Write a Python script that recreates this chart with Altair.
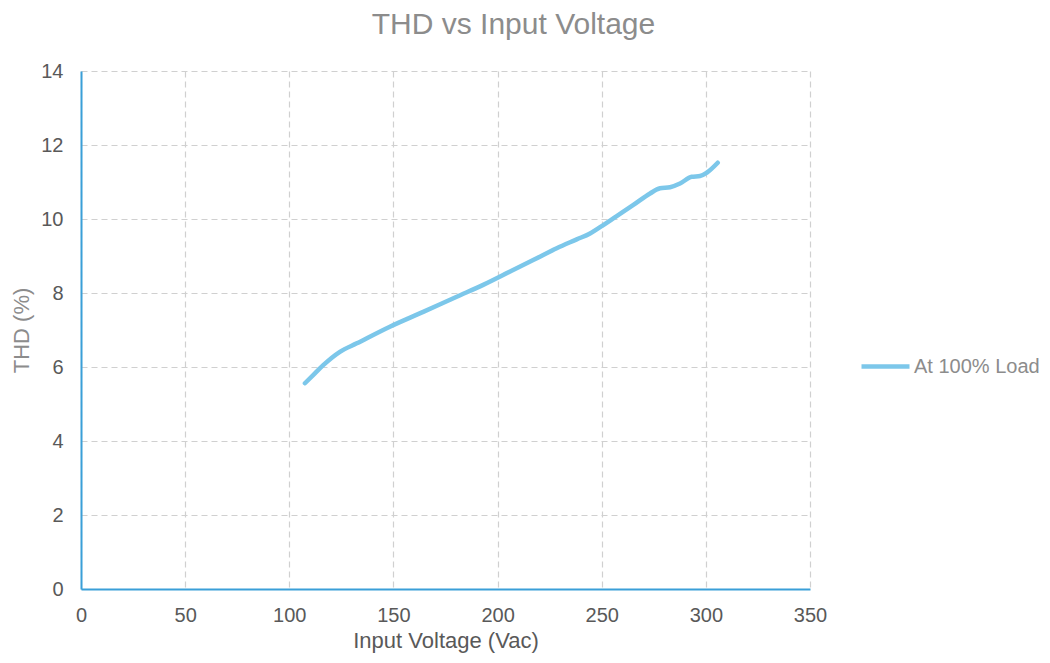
import altair as alt
import pandas as pd

voltage = [107.5, 112.3, 116.3, 124.3, 132.4, 148.3, 164.3, 180.4, 193.1, 206.0,
           217.1, 228.4, 238.0, 244.4, 249.2, 257.2, 265.2, 273.2, 278.0, 282.8,
           287.6, 293.2, 297.2, 300.4, 305.7]
thd = [5.56, 5.83, 6.05, 6.41, 6.64, 7.09, 7.49, 7.90, 8.22, 8.58,
       8.89, 9.21, 9.45, 9.61, 9.78, 10.08, 10.38, 10.69, 10.83, 10.86,
       10.96, 11.14, 11.16, 11.25, 11.52]
series = ["At 100% Load"] * len(voltage)

df = pd.DataFrame({"V": voltage, "THD": thd, "Series": series})

FONT = "Liberation Sans"

line = alt.Chart(df).mark_line(strokeWidth=4.5, interpolate="monotone", strokeCap="round").encode(
    x=alt.X("V:Q", scale=alt.Scale(domain=[0, 350], nice=False),
            axis=alt.Axis(title="Input Voltage (Vac)", values=list(range(0, 351, 50)),
                          grid=True, gridDash=[6, 4], gridColor="#d0d0d0", gridWidth=1.2,
                          domainColor="#3a9fd8", domainWidth=2, ticks=False, labelFlush=False,
                          labelFont=FONT, labelFontSize=20, labelColor="#595959", labelPadding=16,
                          titleFont=FONT, titleFontSize=22, titleColor="#595959",
                          titleFontWeight="normal", titlePadding=5)),
    y=alt.Y("THD:Q", scale=alt.Scale(domain=[0, 14], nice=False),
            axis=alt.Axis(title="THD (%)", values=list(range(0, 15, 2)),
                          grid=True, gridDash=[6, 4], gridColor="#d0d0d0", gridWidth=1.2,
                          domainColor="#3a9fd8", domainWidth=2, ticks=False, labelFlush=False,
                          labelFont=FONT, labelFontSize=20, labelColor="#595959", labelPadding=18,
                          titleFont=FONT, titleFontSize=22, titleColor="#8c8c8c",
                          titleFontWeight="normal", titlePadding=7)),
    color=alt.Color("Series:N", scale=alt.Scale(range=["#7cc7ea"]),
                    legend=alt.Legend(title=None, orient="none", legendX=778, legendY=269,
                                      symbolType="stroke", symbolSize=2304, symbolStrokeWidth=4.5,
                                      labelFont=FONT, labelFontSize=20, labelColor="#8c8c8c",
                                      labelOffset=2, padding=0)),
)

chart = line.properties(
    width=729, height=518,
    padding={"left": 73, "top": 63, "right": 231, "bottom": 66},
    autosize=alt.AutoSizeParams(type="none"),
    title=alt.TitleParams("THD vs Input Voltage", font=FONT, fontSize=30, color="#8c8c8c",
                          fontWeight="normal", anchor="middle", dx=68, offset=21),
).configure_view(stroke=None)

chart.save("out.html", embed_options={"renderer": "svg", "actions": False})
